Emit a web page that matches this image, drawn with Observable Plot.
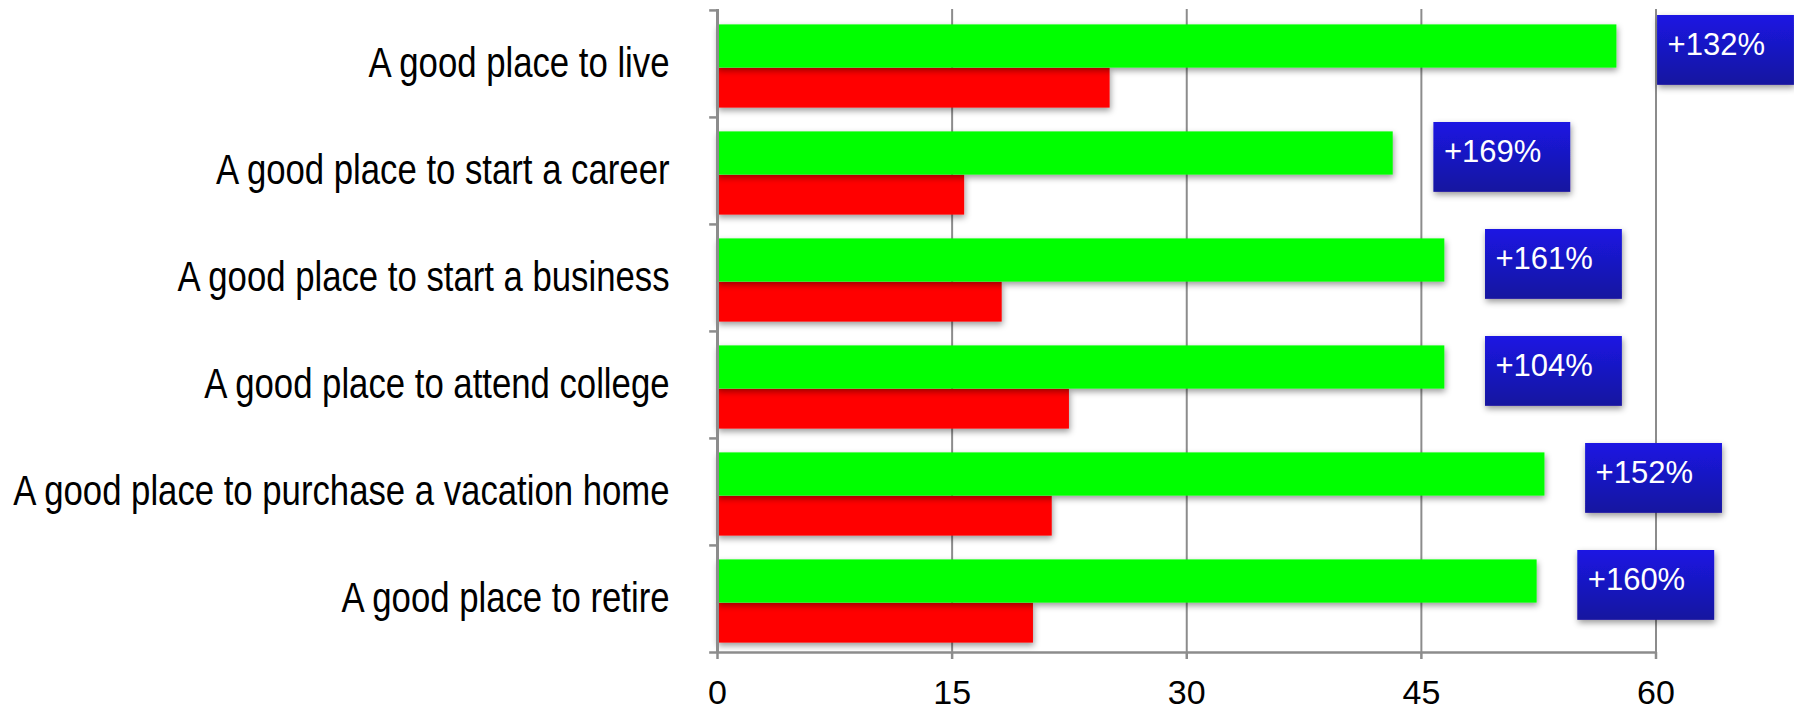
<!DOCTYPE html>
<html><head><meta charset="utf-8">
<script src="https://cdn.jsdelivr.net/npm/d3@7"></script>
<script src="https://cdn.jsdelivr.net/npm/@observablehq/plot@0.6"></script>
<style>body{margin:0;background:#fff}</style>
</head><body><div id="chart"></div>
<script>
const categories = [
  "A good place to live",
  "A good place to start a career",
  "A good place to start a business",
  "A good place to attend college",
  "A good place to purchase a vacation home",
  "A good place to retire"
];
const afterValues = [57.5, 43.2, 46.5, 46.5, 52.9, 52.4];   // green bars
const beforeValues = [25.1, 15.8, 18.2, 22.5, 21.4, 20.2];  // red bars
const changeLabels = ["+132%", "+169%", "+161%", "+104%", "+152%", "+160%"];
const xTicks = [0, 15, 30, 45, 60];

const rows = categories.map((c, i) => ({
  category: c, after: afterValues[i], before: beforeValues[i], label: changeLabels[i]
}));

const W = 1794, H = 712, mT = 9, mB = 60, mL = 717, mR = 138.5;
const bw = (H - mT - mB) / categories.length;
const gray = "#8c8c8c";
const sans = "'Liberation Sans', Arial, sans-serif";
const boxGap = 2.6, boxWidth = 8.75;

const defs = () => {
  const ns = "http://www.w3.org/2000/svg";
  const d = document.createElementNS(ns, "defs");
  d.innerHTML = `<linearGradient id="boxGrad" x1="0" y1="0" x2="0" y2="1">
      <stop offset="0" stop-color="#1b18e3"/><stop offset="1" stop-color="#16139f"/></linearGradient>
    <filter id="shadow" x="-5%" y="-10%" width="115%" height="130%">
      <feDropShadow dx="1" dy="3" stdDeviation="3" flood-color="#000" flood-opacity="0.4"/></filter>`;
  return d;
};

const chart = Plot.plot({
  width: W, height: H,
  marginLeft: mL, marginRight: mR, marginTop: mT, marginBottom: mB,
  x: {domain: [0, 60]},
  y: {domain: categories, padding: 0},
  style: {background: "white", color: "black", fontFamily: sans},
  marks: [
    defs,
    Plot.ruleX(xTicks.slice(1), {stroke: gray, strokeWidth: 2}),
    Plot.barX(rows, {y: "category", x: "before", fill: "#ff0000", insetTop: 57.8, insetBottom: 9.4}),
    Plot.barX(rows, {y: "category", x: "after", fill: "#00ff00", insetTop: 14.4, insetBottom: 49.4}),
    Plot.ruleX([0], {stroke: gray, strokeWidth: 3}),
    Plot.ruleY(categories, {y: d => d, x1: -0.5, x2: 0, dy: -bw / 2, stroke: gray, strokeWidth: 2.5}),
    Plot.ruleY([categories[categories.length - 1]], {y: d => d, x1: -0.5, x2: 60, dy: bw / 2, stroke: gray, strokeWidth: 2.5}),
    Plot.axisX({ticks: xTicks, tickSize: 7, tickPadding: 20, stroke: gray, strokeWidth: 2.5, fill: "black", fontSize: 34, fontFamily: sans, label: null}),
    Plot.axisY({tickSize: 0, tickPadding: 48, fill: "black", fontSize: 42, fontFamily: sans, label: null}),
    Plot.barX(rows, {y: "category", x1: d => d.after + boxGap, x2: d => d.after + boxGap + boxWidth,
      fill: "url(#boxGrad)", insetTop: 5, insetBottom: bw - 75}),
    Plot.text(rows, {y: "category", x: d => d.after + boxGap, dx: 10, dy: -19, text: "label",
      fill: "white", fontSize: 31, textAnchor: "start", fontFamily: sans})
  ]
});
chart.querySelectorAll('g[aria-label="bar"]').forEach(g => g.setAttribute("filter", "url(#shadow)"));
// condensed look of the category labels (narrow face is not installed)
chart.querySelectorAll('g[aria-label="y-axis tick label"] text').forEach(t => {
  t.setAttribute("transform", (t.getAttribute("transform") || "") + " scale(0.827,1)");
});
document.getElementById("chart").appendChild(chart);
</script>
</body></html>
